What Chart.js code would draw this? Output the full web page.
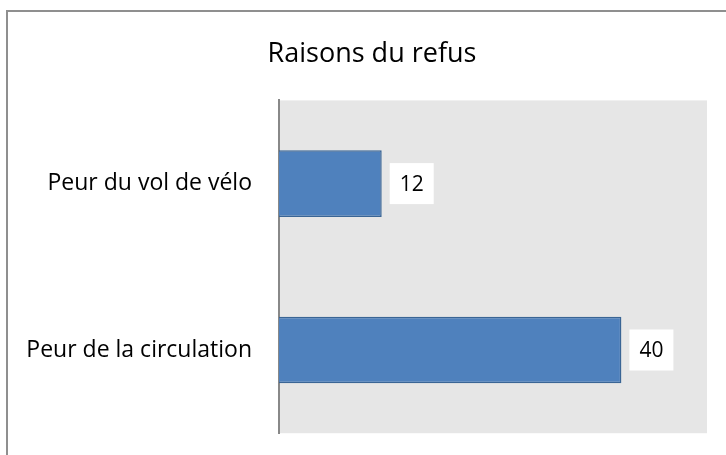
<!DOCTYPE html>
<html>
<head>
    <title>Raisons du refus</title>
    <script src="https://cdn.jsdelivr.net/npm/chart.js"></script>
    <style>
        body {
            margin: 0;
            background: #ffffff;
            overflow: hidden;
        }

        .frame {
            position: absolute;
            left: 6px;
            top: 10px;
            width: 800px;
            height: 500px;
            border-left: 2px solid #8f8f8f;
            border-top: 2px solid #8f8f8f;
        }

        .chart-box {
            position: absolute;
            left: 0;
            top: 0;
            width: 726px;
            height: 474px;
        }
    </style>
</head>
<body>
<div class="frame"></div>
<div class="chart-box">
    <canvas id="refusChart" width="726" height="474"></canvas>
</div>

<script>
    const categories = ['Peur du vol de vélo', 'Peur de la circulation'];
    const values = [12, 40];
    const axisMax = 50;

    const fontFamily = "'Open Sans', sans-serif";

    // grey plot area behind the bars
    const plotBackground = {
        id: 'plotBackground',
        beforeDraw(chart) {
            const {ctx, chartArea} = chart;
            ctx.save();
            ctx.fillStyle = '#e6e6e6';
            ctx.fillRect(chartArea.left, chartArea.top, chartArea.right - chartArea.left, chartArea.bottom - chartArea.top);
            ctx.restore();
        }
    };

    // the original chart was wider than the crop, so its title sits right of the canvas centre
    const titleShift = {
        id: 'titleShift',
        afterLayout(chart) {
            if (chart.titleBlock) {
                chart.titleBlock.left = 37;
            }
        }
    };

    // value labels in white boxes, to the right of each bar
    const valueBoxes = {
        id: 'valueBoxes',
        afterDatasetsDraw(chart) {
            const {ctx} = chart;
            const meta = chart.getDatasetMeta(0);
            ctx.save();
            ctx.font = '21px ' + fontFamily;
            ctx.textAlign = 'center';
            ctx.textBaseline = 'middle';
            meta.data.forEach((bar, i) => {
                const boxX = bar.x + 8;
                const boxW = 44;
                const boxH = 41;
                ctx.fillStyle = '#ffffff';
                ctx.fillRect(boxX, bar.y - boxH / 2, boxW, boxH);
                ctx.fillStyle = '#000000';
                ctx.fillText(String(values[i]), boxX + boxW / 2, bar.y + 1);
            });
            ctx.restore();
        }
    };

    new Chart(document.getElementById('refusChart'), {
        type: 'bar',
        data: {
            labels: categories,
            datasets: [{
                data: values,
                backgroundColor: '#4f81bd',
                borderColor: '#3a6595',
                borderWidth: 1.5,
                categoryPercentage: 1,
                barPercentage: 0.4
            }]
        },
        options: {
            indexAxis: 'y',
            responsive: false,
            animation: false,
            layout: {
                autoPadding: false,
                padding: {left: 0, right: 19, top: 2, bottom: 4}
            },
            plugins: {
                legend: {display: false},
                tooltip: {enabled: false},
                title: {
                    display: true,
                    text: 'Raisons du refus',
                    color: '#000000',
                    font: {family: fontFamily, size: 27, weight: 'normal'},
                    padding: {top: 36, bottom: 30}
                }
            },
            scales: {
                x: {
                    display: false,
                    min: 0,
                    max: axisMax
                },
                y: {
                    grid: {display: false, drawTicks: false, tickLength: 0},
                    border: {display: true, color: '#888888', width: 2},
                    ticks: {
                        color: '#000000',
                        padding: 27,
                        font: {family: fontFamily, size: 23}
                    },
                    afterFit(scale) {
                        scale.width = 279;
                    }
                }
            }
        },
        plugins: [plotBackground, titleShift, valueBoxes]
    });
</script>
</body>
</html>
